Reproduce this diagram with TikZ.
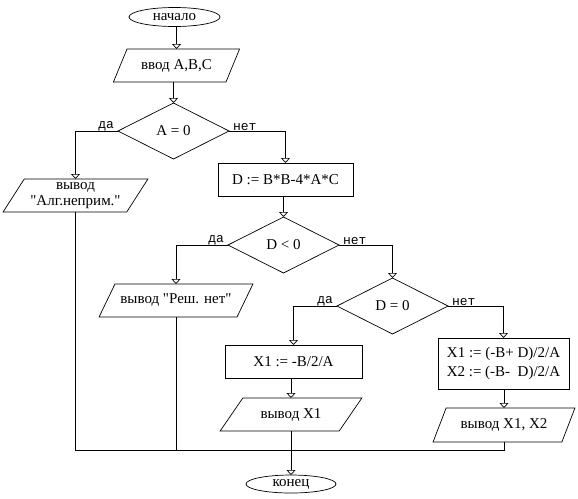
\documentclass[tikz,border=0pt]{standalone}
\usepackage{fontspec}
\setmainfont{Liberation Serif}[Ligatures=TeXOff]
\newfontfamily\lblfont{Liberation Mono}
\usetikzlibrary{positioning,arrows.meta,shapes.geometric}

\begin{document}
\begin{tikzpicture}[
    x=1pt, y=1pt,
    line width=0.7pt,
    every node/.style={font=\fontsize{15}{16}\selectfont, inner sep=1pt, outer sep=0pt},
    term/.style={draw, ellipse, minimum width=91pt, minimum height=19pt, inner sep=0pt},
    io/.style={draw, trapezium, trapezium left angle=56, trapezium right angle=124, trapezium stretches=true, minimum height=33pt},
    iob/.style={io, trapezium left angle=45, trapezium right angle=135},
    proc/.style={draw, rectangle, minimum height=33pt},
    cond/.style={draw, diamond, aspect=2, minimum width=111pt, minimum height=56pt, inner sep=0pt},
    lbl/.style={font=\lblfont\fontsize{13}{13}\selectfont, inner sep=0pt},
    arr/.style={-{Triangle[open, width=9pt, length=5pt]}}
]
  \useasboundingbox (0,0) rectangle (578,-498);

  \node[term] (start) at (174.5,-17) {начало};
  \node[io, minimum width=127pt, below=22.5pt of start, xshift=2pt] (inp) {ввод A,B,C};
  \node[cond, below=21pt of inp, xshift=-3pt] (dA) {A = 0};
  \node[io, minimum width=145pt, align=center, below=20pt of dA, xshift=-98pt] (alg) {вывод\\"Алг.неприм."};
  \node[proc, minimum width=135pt, below=4pt of dA, xshift=112pt] (calcD) {D := B*B-4*A*C};
  \node[cond, below=21pt of calcD, xshift=-2pt] (dB) {D < 0};
  \node[iob, minimum width=154pt, below=11pt of dB, xshift=-107.5pt] (res) {вывод "Реш. нет"};
  \node[cond, below=5pt of dB, xshift=109pt] (dC) {D = 0};
  \node[proc, minimum width=137pt, below=11pt of dC, xshift=-99pt] (x1) {X1 := -B/2/A};
  \node[proc, minimum width=131pt, minimum height=51pt, align=center, below=4pt of dC, xshift=111pt] (x12)
       {X1 := (-B+ D)/2/A\\[3pt]X2 := (-B-~ D)/2/A};
  \node[iob, minimum width=142pt, below=20pt of x1, xshift=-2.5pt] (outx) {вывод X1};
  \node[io, minimum width=142pt, minimum height=34pt, below=19pt of x12, xshift=0.5pt] (outxx) {вывод X1, X2};
  \coordinate[below=19pt of outx.south] (join);
  \node[term, minimum width=90pt, minimum height=18pt, below=25pt of join] (end) {конец};

  % branch labels
  \node[lbl, above left=0pt and 4pt of dA.west] (yA) {да};
  \node[lbl, above right=0pt and 4pt of dA.east] (nA) {нет};
  \node[lbl, above left=0pt and 4pt of dB.west] (yB) {да};
  \node[lbl, above right=0pt and 4pt of dB.east] (nB) {нет};
  \node[lbl, above left=0pt and 4pt of dC.west] (yC) {да};
  \node[lbl, above right=0pt and 4pt of dC.east] (nC) {нет};

  \draw[arr] (start.south -| inp.north) -- (inp.north);
  \draw[arr] (inp.south -| dA.north) -- (dA.north);
  \draw[arr] (dA.west) -| (alg.north);
  \draw[arr] (dA.east) -| (calcD.north);
  \draw[arr] (calcD.south -| dB.north) -- (dB.north);
  \draw[arr] (dB.west) -| (res.north);
  \draw[arr] (dB.east) -| (dC.north);
  \draw[arr] (dC.west) -| (x1.north);
  \draw[arr] (dC.east) -| (x12.north);
  \draw[arr] (x1.south -| outx.north) -- (outx.north);
  \draw[arr] (x12.south -| outxx.north) -- (outxx.north);

  % merge to the end
  \draw (alg.south) |- (join);
  \draw (res.south) -- (res.south |- join);
  \draw (outxx.south) |- (join);
  \draw[arr] (outx.south) -- (end.north);
\end{tikzpicture}
\end{document}
